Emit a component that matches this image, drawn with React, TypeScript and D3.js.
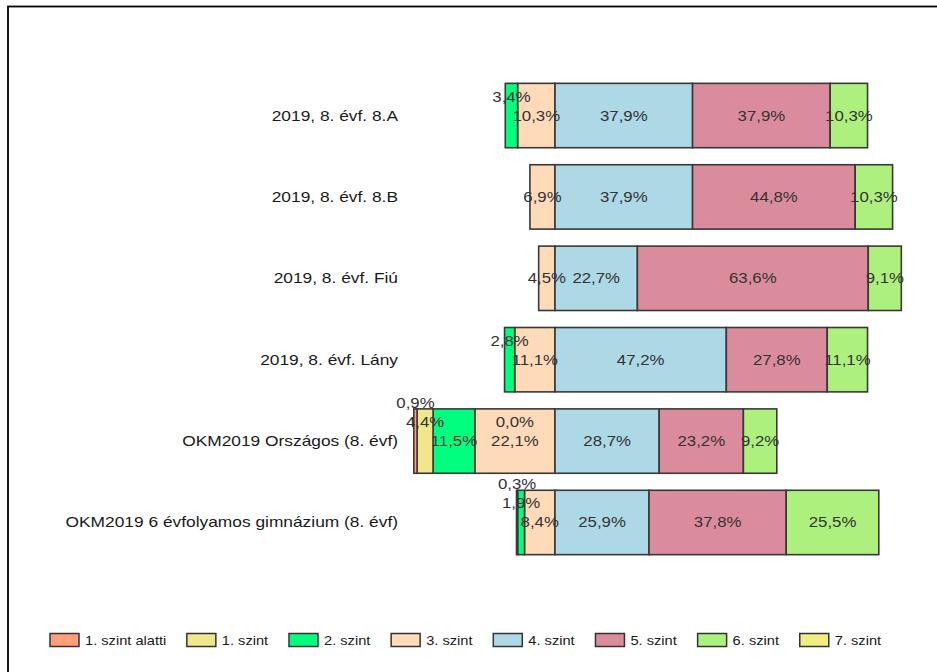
import React, { useRef, useEffect } from "react";
import * as d3 from "d3";

const categories = [
  "2019, 8. évf. 8.A",
  "2019, 8. évf. 8.B",
  "2019, 8. évf. Fiú",
  "2019, 8. évf. Lány",
  "OKM2019 Országos (8. évf)",
  "OKM2019 6 évfolyamos gimnázium (8. évf)",
];

const levels = [
  "1. szint alatti",
  "1. szint",
  "2. szint",
  "3. szint",
  "4. szint",
  "5. szint",
  "6. szint",
  "7. szint",
];

const colors = [
  "#FF9F7A",
  "#F0E68C",
  "#00FF7F",
  "#FFDAB9",
  "#ADD8E6",
  "#DB8C9C",
  "#AEF07E",
  "#F0EE80",
];

// percentages per level, one entry per category (null = not shown)
const alatti = [null, null, null, null, 0.9, null];
const szint1 = [null, null, null, null, 4.4, 0.3];
const szint2 = [3.4, null, null, 2.8, 11.5, 1.9];
const szint3 = [10.3, 6.9, 4.5, 11.1, 22.1, 8.4];
const szint4 = [37.9, 37.9, 22.7, 47.2, 28.7, 25.9];
const szint5 = [37.9, 44.8, 63.6, 27.8, 23.2, 37.8];
const szint6 = [10.3, 10.3, 9.1, 11.1, 9.2, 25.5];
const szint7 = [null, null, null, null, 0.0, null];

const series = [alatti, szint1, szint2, szint3, szint4, szint5, szint6, szint7];

const fmt = (v: number) => v.toFixed(1).replace(".", ",") + "%";

const App = () => {
  const ref = useRef<HTMLDivElement>(null);

  useEffect(() => {
    const W = 937;
    const H = 672;
    d3.select(ref.current).select("svg").remove();

    const svg = d3
      .select(ref.current)
      .append("svg")
      .attr("width", W)
      .attr("height", H)
      .style("display", "block")
      .style("font-family", "'Liberation Sans', Arial, sans-serif");

    svg.append("rect").attr("width", W).attr("height", H).attr("fill", "white");

    // outer frame (runs off right and bottom)
    svg
      .append("rect")
      .attr("x", 8)
      .attr("y", 6.5)
      .attr("width", 1000)
      .attr("height", 1000)
      .attr("fill", "none")
      .attr("stroke", "#000")
      .attr("stroke-width", 1.8);

    const x = d3.scaleLinear().domain([-100, 100]).range([555 - 363, 918]);

    const y = d3
      .scaleBand()
      .domain(categories)
      .range([74.8, 563.2])
      .paddingInner(0.209)
      .paddingOuter(0.105);

    // the original renders text horizontally stretched
    const stretched = (g, tx: number, ty: number, txt: string, size: number, anchor: string, fill: string, sx: number) =>
      g
        .append("text")
        .attr("transform", `translate(${tx},${ty}) scale(${sx},1)`)
        .attr("text-anchor", anchor)
        .attr("font-size", size)
        .attr("fill", fill)
        .text(txt);

    // category labels
    const catG = svg.append("g");
    categories.forEach((c) => {
      stretched(catG, 398, y(c)! + y.bandwidth() / 2 + 5, c, 14, "end", "#1a1a1a", 1.24);
    });

    const leftOrder = [3, 2, 1, 0];
    const rightOrder = [4, 5, 6, 7];
    const barG = svg.append("g");
    const labelG = svg.append("g");
    const lineH = 19;
    const SX = 1.2;

    categories.forEach((cat, ci) => {
      const segs: { li: number; x0: number; x1: number; v: number }[] = [];
      let acc = 0;
      leftOrder.forEach((li) => {
        const v = series[li][ci];
        if (v == null) return;
        segs.push({ li, x0: x(-(acc + v)), x1: x(-acc), v });
        acc += v;
      });
      acc = 0;
      rightOrder.forEach((li) => {
        const v = series[li][ci];
        if (v == null) return;
        segs.push({ li, x0: x(acc), x1: x(acc + v), v });
        acc += v;
      });

      const yc = y(cat)! + y.bandwidth() / 2;

      barG
        .selectAll(null)
        .data(segs.filter((s) => s.v > 0))
        .enter()
        .append("rect")
        .attr("x", (s) => s.x0)
        .attr("y", y(cat)!)
        .attr("width", (s) => s.x1 - s.x0)
        .attr("height", y.bandwidth())
        .attr("fill", (s) => colors[s.li])
        .attr("stroke", "#383838")
        .attr("stroke-width", 1.6);

      // labels with simple upward collision avoidance
      const inner = segs.find((s) => s.li === 3);
      const placed: { a: number; b: number; lvl: number }[] = [];
      const ordered = [...segs.filter((s) => s.v > 0), ...segs.filter((s) => s.v === 0)];
      ordered.forEach((s) => {
        const cx = s.v === 0 && inner ? (inner.x0 + inner.x1) / 2 : (s.x0 + s.x1) / 2;
        const t = stretched(labelG, cx, yc + 5, fmt(s.v), 14, "middle", "#333", SX);
        const w = (t.node() as SVGTextElement).getBBox().width * SX;
        const a = cx - w / 2;
        const b = cx + w / 2;
        let lvl = 0;
        while (placed.some((p) => p.lvl === lvl && a < p.b && b > p.a)) lvl++;
        placed.push({ a, b, lvl });
        t.attr("transform", `translate(${cx},${yc + 5 - lvl * lineH}) scale(${SX},1)`);
      });
    });

    // legend
    const lg = svg.append("g");
    let lx = 50;
    levels.forEach((name, i) => {
      lg.append("rect")
        .attr("x", lx)
        .attr("y", 633.5)
        .attr("width", 29)
        .attr("height", 13)
        .attr("fill", colors[i])
        .attr("stroke", "#333")
        .attr("stroke-width", 1.5);
      const t = stretched(lg, lx + 35, 644.5, name, 12, "start", "#1a1a1a", 1.22);
      const w = (t.node() as SVGTextElement).getBBox().width * 1.22;
      lx += 29 + 6 + w + 20.5;
    });
  }, []);

  return <div ref={ref} style={{ position: "absolute", left: 0, top: 0 }}></div>;
};

export default App;
